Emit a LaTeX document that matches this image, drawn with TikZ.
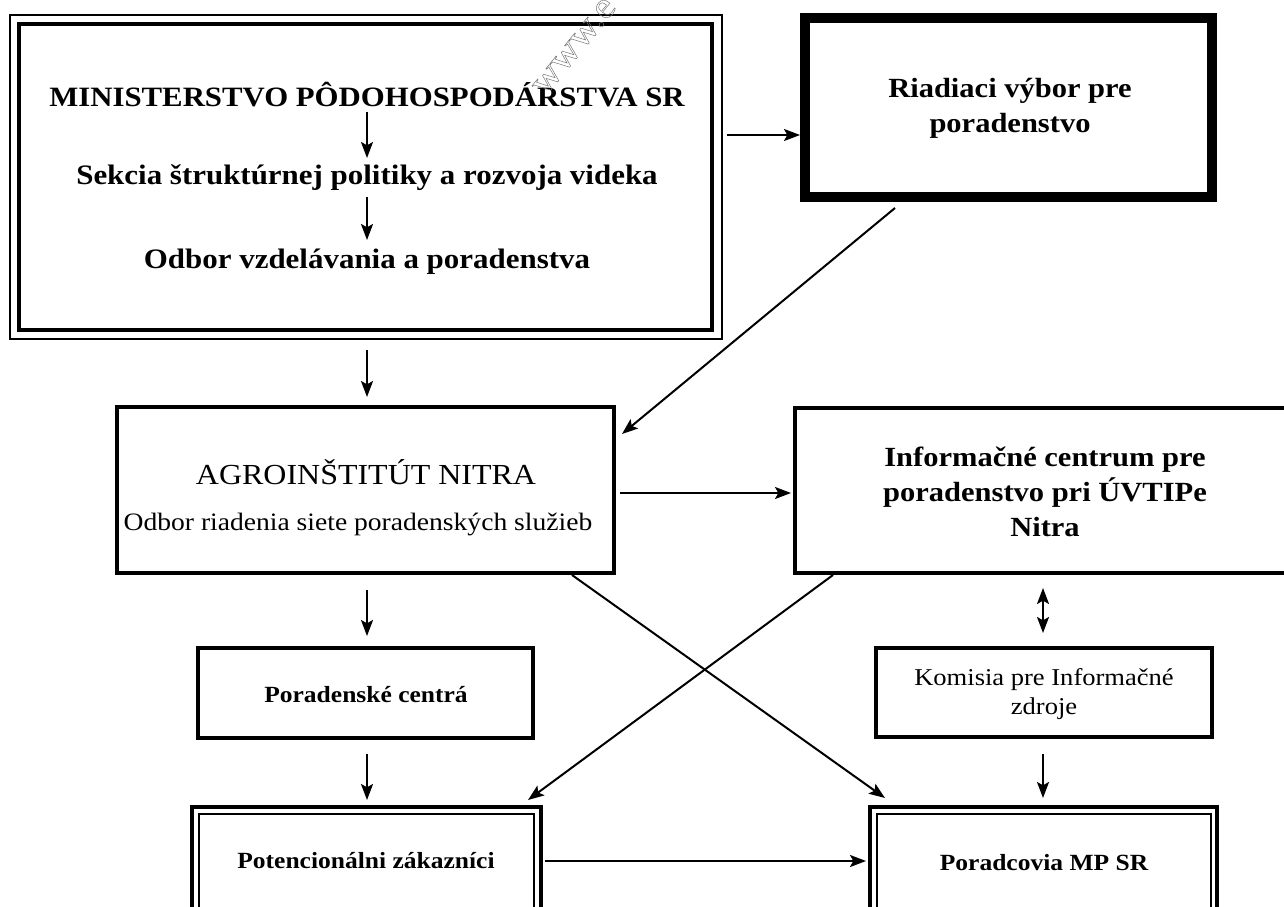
\documentclass[tikz,border=0pt]{standalone}
\usepackage{fontspec}
\setmainfont{Liberation Serif}[FakeStretch=1.1]
\usetikzlibrary{arrows.meta,calc,fit}
\begin{document}
\begin{tikzpicture}[x=0.75pt,y=-0.75pt,
  box/.style={draw,inner sep=0pt,outer sep=0pt,line width=3.4pt},
  thinbox/.style={draw,inner sep=0pt,outer sep=0pt,line width=1.1pt},
  heavybox/.style={draw,inner sep=0pt,outer sep=0pt,line width=6.8pt},
  tip/.tip={Stealth[length=12pt,width=9pt,inset=2.5pt]},
  arr/.style={line width=1.5pt,-tip},
  darr/.style={line width=1.5pt,tip-tip},
  lbl/.style={align=center,inner sep=0pt},
  bigb/.style={lbl,font=\bfseries\fontsize{21}{25}\selectfont},
  midb/.style={lbl,font=\bfseries\fontsize{21.1}{26}\selectfont},
  boxb/.style={lbl,font=\bfseries\fontsize{20.8}{26}\selectfont},
  smallb/.style={lbl,font=\bfseries\fontsize{17.4}{21}\selectfont},
  bigr/.style={lbl,font=\fontsize{21.8}{26}\selectfont},
  smallr/.style={lbl,font=\fontsize{18.1}{22}\selectfont}
]
\path[use as bounding box,fill=white] (0,0) rectangle (1284,906);
\clip (0,0) rectangle (1284,906);

% boxes
\node[thinbox,fit={(10,15) (722,339)}] (minO) {};
\node[box,fit={(19,24) (712,330)}] (min) {};
\node[heavybox,fit={(805,18) (1212,197)}] (riad) {};
\node[box,fit={(117,407) (614,573)}] (agro) {};
\node[box,fit={(795,408) (1292,573)}] (info) {};
\node[box,fit={(198,648) (533,738)}] (porc) {};
\node[box,fit={(876,648) (1212,737)}] (kom) {};
\node[box,fit={(192,807) (541,930)}] (pot) {};
\node[thinbox,fit={(199,814) (534,923)}] (potI) {};
\node[box,fit={(870,807) (1217,930)}] (por) {};
\node[thinbox,fit={(877,814) (1211,923)}] (porI) {};

% texts
\node[bigb] (t1) at (367,95) {MINISTERSTVO PÔDOHOSPODÁRSTVA SR};
\node[midb] (t2) at (367,178) {Sekcia štruktúrnej politiky a rozvoja videka};
\node[midb] (t3) at (367,262) {Odbor vzdelávania a poradenstva};
\node[boxb] (triad) at (1010,108) {Riadiaci výbor pre\\poradenstvo};
\node[bigr] (tagro1) at (366,472) {AGROINŠTITÚT NITRA};
\node[lbl,font=\fontsize{18.8}{22}\selectfont] (tagro2) at (358,524) {Odbor riadenia siete poradenských služieb};
\node[boxb] (tinfo) at (1045,492) {Informačné centrum pre\\poradenstvo pri ÚVTIPe\\Nitra};
\node[smallb] (tporc) at (366,695) {Poradenské centrá};
\node[smallr] (tkom) at (1044,694) {Komisia pre Informačné\\zdroje};
\node[smallb] (tpot) at (366,861) {Potencionálni zákazníci};
\node[smallb] (tpor) at (1044,863) {Poradcovia MP SR};

% watermark (outlined)
\node[rotate=51,anchor=base west,text=black!55,font=\fontsize{28}{28}\selectfont,inner sep=0pt] (wm) at (545,97)
  {\special{pdf:literal direct 1 Tr 0.35 w}www.e\special{pdf:literal direct 0 Tr}};

% connectors
\draw[arr] ($(t1)+(0,17)$) -- ($(t2)+(0,-20)$);
\draw[arr] ($(t2)+(0,19)$) -- ($(t3)+(0,-22)$);
\draw[arr] ($(minO.east)+(5,-42)$) -- ($(riad.west)+(-5,27.5)$);
\draw[arr] ($(minO.south)+(1,11)$) -- ($(agro.north)+(1.5,-10)$);
\draw[arr] ($(riad.south)+(-113.5,11)$) -- ($(agro.east)+(8,-56)$);
\draw[arr] ($(agro.east)+(6,3)$) -- ($(info.west)+(-4,2.5)$);
\draw[arr] ($(agro.south)+(1.5,17)$) -- ($(porc.north)+(1.5,-12)$);
\draw[arr] ($(porc.south)+(1.5,16)$) -- ($(pot.north)+(0.5,-7)$);
\draw[darr] ($(info.south)+(-0.5,15)$) -- ($(kom.north)+(-1,-15)$);
\draw[arr] ($(kom.south)+(-1,17)$) -- ($(por.north)+(-0.5,-9)$);
\draw[arr] ($(info.south)+(-210.5,2)$) -- ($(pot.north)+(161.5,-7)$);
\draw[arr] ($(agro.south)+(206.5,2)$) -- ($(por.north)+(-158.5,-9)$);
\draw[arr] ($(pot.east)+(4,-7.5)$) -- ($(por.west)+(-4,-7.5)$);
\end{tikzpicture}
\end{document}
